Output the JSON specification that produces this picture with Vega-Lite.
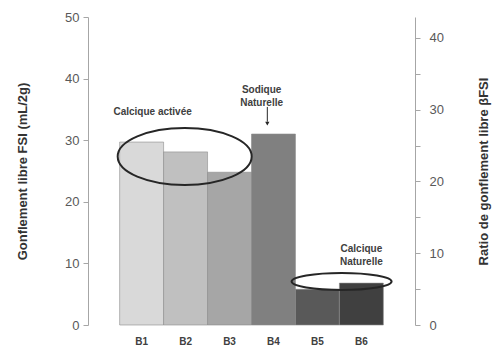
{
  "$schema": "https://vega.github.io/schema/vega-lite/v6.json",
  "width": 327,
  "height": 308,
  "padding": {"left": 88, "top": 17, "right": 78, "bottom": 24},
  "autosize": {"type": "none"},
  "background": "white",
  "config": {
    "view": {"stroke": null},
    "font": "Liberation Sans",
    "axis": {"grid": false, "labelFont": "Liberation Sans", "titleFont": "Liberation Sans"}
  },
  "datasets": {
    "bars": [
      {"b": "B1", "fsi": 29.7},
      {"b": "B2", "fsi": 28.1},
      {"b": "B3", "fsi": 24.8},
      {"b": "B4", "fsi": 31.0},
      {"b": "B5", "fsi": 5.8},
      {"b": "B6", "fsi": 6.8}
    ]
  },
  "layer": [
    {
      "layer": [
        {
          "data": {"name": "bars"},
          "mark": {"type": "bar", "stroke": "#8c8c8c", "strokeWidth": 0.6},
          "encoding": {
            "x": {
              "field": "b", "type": "nominal", "sort": null,
              "scale": {"paddingInner": 0, "paddingOuter": 0.72},
              "axis": {"title": null, "domain": false, "ticks": false, "labelAngle": 0,
                       "labelFontSize": 10, "labelFontWeight": "bold", "labelColor": "#404040", "labelPadding": 11}
            },
            "y": {
              "field": "fsi", "type": "quantitative",
              "scale": {"domain": [0, 50]},
              "axis": {
                "title": "Gonflement libre FSI (mL/2g)",
                "titleFontSize": 13, "titleFontWeight": "bold", "titleColor": "#333333", "titlePadding": 35,
                "values": [0, 5, 10, 15, 20, 25, 30, 35, 40, 45, 50],
                "labelExpr": "datum.value % 10 === 0 ? datum.label : ''",
                "labelFontSize": 13, "labelColor": "#595959", "labelPadding": 4,
                "tickSize": 5, "tickColor": "#a6a6a6", "domainColor": "#a6a6a6"
              }
            },
            "color": {
              "field": "b", "type": "nominal", "legend": null,
              "scale": {"domain": ["B1","B2","B3","B4","B5","B6"],
                        "range": ["#d9d9d9", "#c0c0c0", "#a6a6a6", "#808080", "#595959", "#404040"]}
            }
          }
        },
        {
          "data": {"values": [{"b": "B2", "y": 27.35}]},
          "mark": {"type": "point", "shape": "M-1,0A1,0.425 0 1,0 1,0A1,0.425 0 1,0 -1,0Z", "size": 17956, "filled": false, "stroke": "#262626", "strokeWidth": 2, "opacity": 1},
          "encoding": {
            "x": {"field": "b", "type": "nominal", "bandPosition": 0.48},
            "y": {"field": "y", "type": "quantitative"}
          }
        },
        {
          "data": {"values": [{"b": "B6", "y": 7.06}]},
          "mark": {"type": "point", "shape": "M-1,0A1,0.17 0 1,0 1,0A1,0.17 0 1,0 -1,0Z", "size": 10000, "filled": false, "stroke": "#262626", "strokeWidth": 2, "opacity": 1},
          "encoding": {
            "x": {"field": "b", "type": "nominal", "bandPosition": 0.05},
            "y": {"field": "y", "type": "quantitative"}
          }
        },
        {
          "data": {"values": [
            {"b": "B1", "y": 34.6, "label": "Calcique activée"}
          ]},
          "mark": {"type": "text", "fontSize": 10, "fontWeight": "bold", "color": "#404040", "baseline": "middle", "align": "center"},
          "encoding": {
            "x": {"field": "b", "type": "nominal", "bandPosition": 0.75},
            "y": {"field": "y", "type": "quantitative"},
            "text": {"field": "label"}
          }
        },
        {
          "data": {"values": [
            {"b": "B4", "y": 38.1, "label": ["Sodique", "Naturelle"]}
          ]},
          "mark": {"type": "text", "fontSize": 10, "fontWeight": "bold", "color": "#404040", "baseline": "middle", "align": "center", "lineHeight": 13},
          "encoding": {
            "x": {"field": "b", "type": "nominal", "bandPosition": 0.23},
            "y": {"field": "y", "type": "quantitative"},
            "text": {"field": "label"}
          }
        },
        {
          "data": {"values": [
            {"b": "B6", "y": 12.3, "label": ["Calcique", "Naturelle"]}
          ]},
          "mark": {"type": "text", "fontSize": 10, "fontWeight": "bold", "color": "#404040", "baseline": "middle", "align": "center", "lineHeight": 13},
          "encoding": {
            "x": {"field": "b", "type": "nominal", "bandPosition": 0.5},
            "y": {"field": "y", "type": "quantitative"},
            "text": {"field": "label"}
          }
        },
        {
          "data": {"values": [{"b": "B4", "y1": 35.4, "y2": 33.0}]},
          "mark": {"type": "rule", "color": "#262626", "strokeWidth": 1},
          "encoding": {
            "x": {"field": "b", "type": "nominal", "bandPosition": 0.36},
            "y": {"field": "y1", "type": "quantitative"},
            "y2": {"field": "y2"}
          }
        },
        {
          "data": {"values": [{"b": "B4", "y": 32.7}]},
          "mark": {"type": "point", "shape": "triangle-down", "size": 18, "filled": true, "color": "#262626", "opacity": 1},
          "encoding": {
            "x": {"field": "b", "type": "nominal", "bandPosition": 0.36},
            "y": {"field": "y", "type": "quantitative"}
          }
        }
      ]
    },
    {
      "data": {"name": "bars"},
      "mark": {"type": "point", "opacity": 0},
      "encoding": {
        "x": {"field": "b", "type": "nominal", "sort": null},
        "y": {
          "field": "fsi", "type": "quantitative",
          "scale": {"domain": [0, 42.9], "nice": false, "zero": true},
          "axis": {
            "orient": "right",
            "title": "Ratio de gonflement libre βFSI",
            "titleAngle": -90, "titleFontSize": 13, "titleFontWeight": "bold", "titleColor": "#333333", "titlePadding": 47,
            "values": [0, 5, 10, 15, 20, 25, 30, 35, 40],
            "labelExpr": "datum.value % 10 === 0 ? datum.label : ''",
            "labelFontSize": 13, "labelColor": "#595959", "labelPadding": 9,
            "tickSize": 5, "tickColor": "#a6a6a6", "domainColor": "#a6a6a6"
          }
        }
      }
    }
  ],
  "resolve": {"scale": {"y": "independent"}}
}
